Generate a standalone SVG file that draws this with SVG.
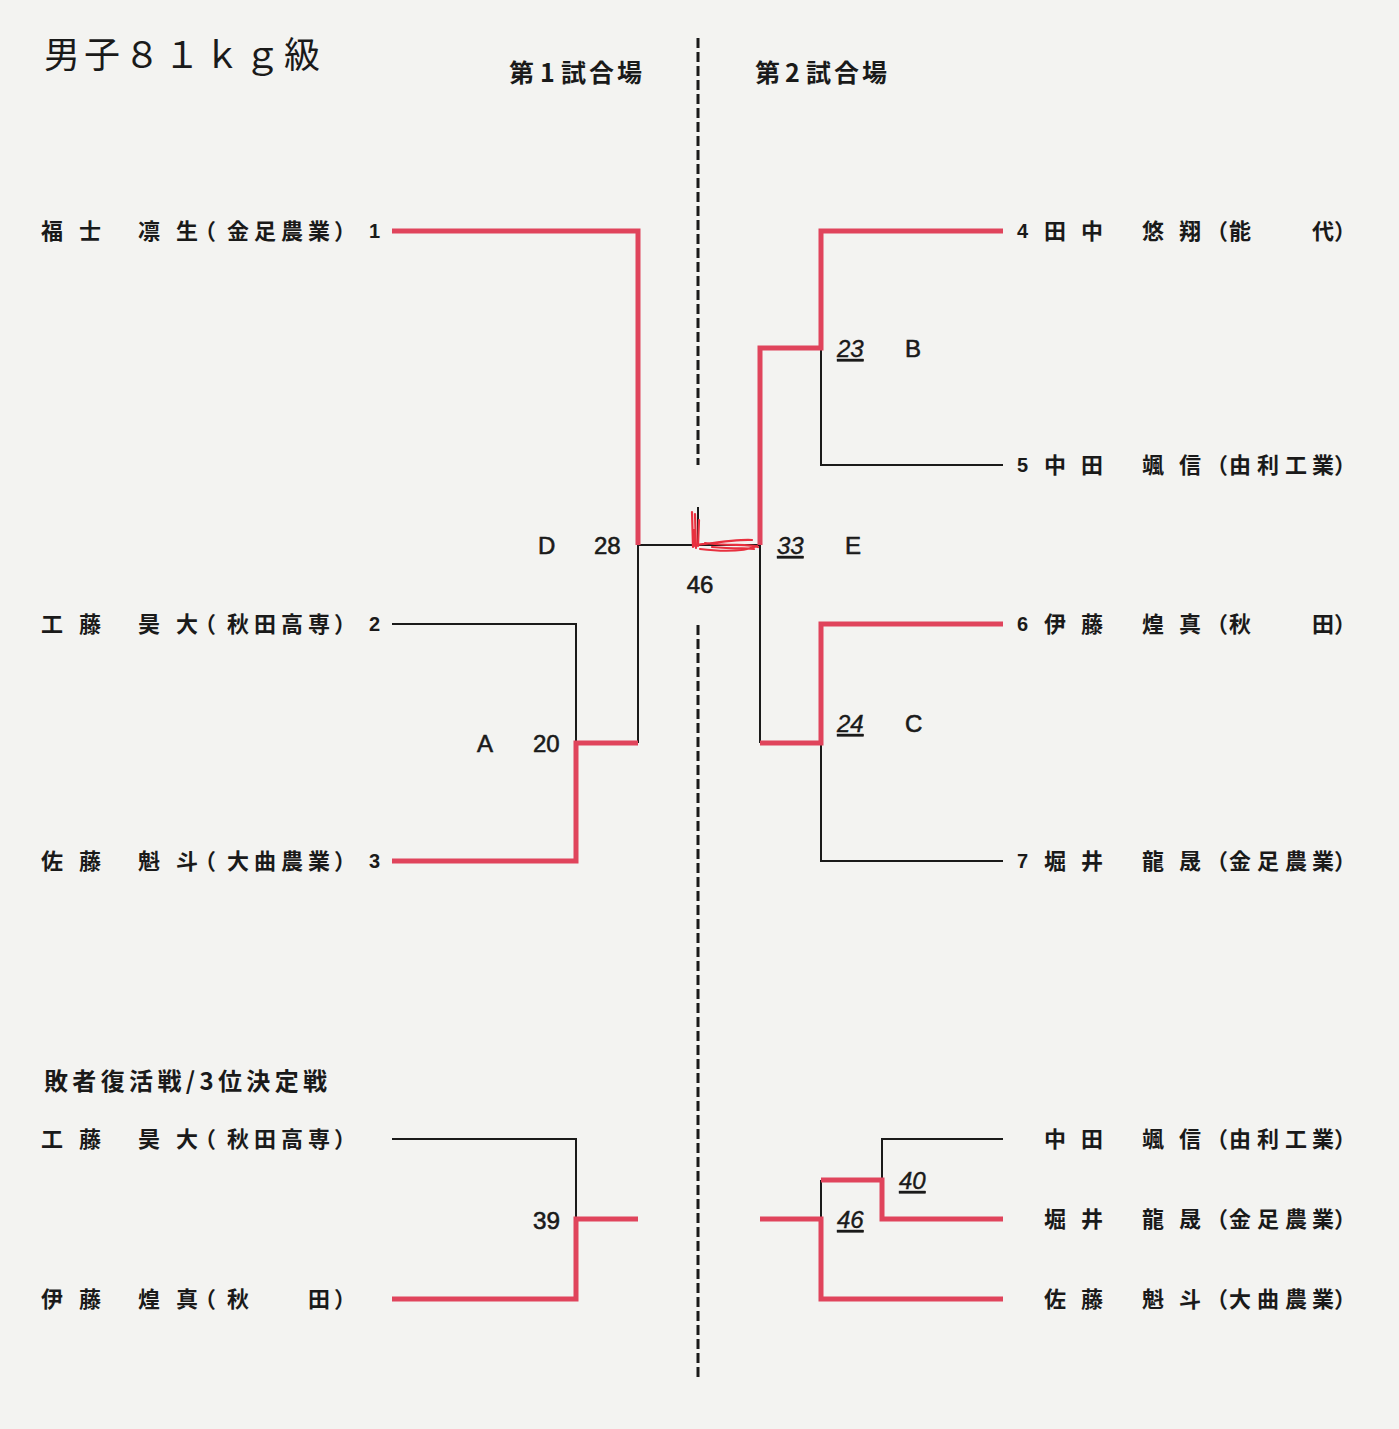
<svg xmlns="http://www.w3.org/2000/svg" width="1399" height="1429" viewBox="0 0 1399 1429">
<style>
.bg{fill:#f3f3f1}
.r{stroke:#e0445c;stroke-width:5;fill:none}
.k{stroke:#1a1a1a;stroke-width:2;fill:none}
.d{stroke:#1a1a1a;stroke-width:3;fill:none;stroke-dasharray:10 4}
.s{stroke:#e8303f;stroke-width:2.2;fill:none;stroke-linecap:round}
.jp{font-family:"Noto Sans CJK JP","Noto Sans CJK SC",sans-serif;fill:#1a1a1a}
.nm{font-size:22px;font-weight:bold}
.num{font-family:"Liberation Sans",Arial,sans-serif;font-size:20px;font-weight:bold;fill:#1a1a1a}
.lb{font-family:"Liberation Sans",Arial,sans-serif;font-size:24px;fill:#1a1a1a;stroke:#1a1a1a;stroke-width:0.6}
.it{font-family:"Liberation Sans",Arial,sans-serif;font-size:24px;font-style:italic;fill:#1a1a1a;stroke:#1a1a1a;stroke-width:0.4;text-decoration:underline}
</style>
<rect class="bg" x="0" y="0" width="1399" height="1429"/>

<g id="headers">
<text class="jp" x="44" y="68" font-size="36" letter-spacing="4">男子８１ｋｇ級</text>
<text class="jp" x="509 540 561 589 617" y="82" font-size="25" font-weight="bold">第1試合場</text>
<text class="jp" x="755 785 806 834 862" y="82" font-size="25" font-weight="bold">第2試合場</text>
<text class="jp" x="44" y="1090" font-size="24" font-weight="bold" textLength="283" lengthAdjust="spacing">敗者復活戦/3位決定戦</text>
</g>

<g id="connectors">
<path class="d" d="M698,38 V465"/>
<path class="d" d="M698,625 V1378"/>
<path class="k" d="M698,507 V545"/>
<path class="k" d="M392,624 H576 V743"/>
<path class="k" d="M638,743 V545 H760 V743"/>
<path class="k" d="M1003,465 H821 V348"/>
<path class="k" d="M1003,861 H821 V743"/>
<path class="k" d="M392,1139 H576 V1219"/>
<path class="k" d="M1003,1139 H882 V1180"/>
<path class="k" d="M821,1180 V1219"/>
<path class="r" d="M392,231 H638 V545"/>
<path class="r" d="M392,861 H576 V743 H638"/>
<path class="r" d="M1003,231 H821 V348 H760 V545"/>
<path class="r" d="M1003,624 H821 V743 H760"/>
<path class="r" d="M392,1299 H576 V1219 H638"/>
<path class="r" d="M1003,1299 H821 V1219 H760"/>
<path class="r" d="M1003,1219 H882 V1180 H821"/>
<path class="s" d="M692,512 L693,547 M695,514 L696,548 M699,520 L698,546 M694,530 L695,546"/>
<path class="s" d="M697,545 C720,542 740,539 752,540 M700,549 C725,552 745,551 757,546 M705,543 C730,546 750,544 758,547 M712,547 C735,549 748,548 754,549"/>
</g>

<g id="p1"><text class="jp nm" x="41 79 138 176 194 227 254 281 308 334" y="239">福士凛生（金足農業）</text><text class="num" x="369" y="238">1</text></g>
<g id="p2"><text class="jp nm" x="41 79 138 176 194 227 254 281 308 334" y="632">工藤昊大（秋田高専）</text><text class="num" x="369" y="631">2</text></g>
<g id="p3"><text class="jp nm" x="41 79 138 176 194 227 254 281 308 334" y="869">佐藤魁斗（大曲農業）</text><text class="num" x="369" y="868">3</text></g>
<g id="p4"><text class="num" x="1017" y="238">4</text><text class="jp nm" x="1044 1081 1142 1179 1206 1229 1312 1334" y="239">田中悠翔（能代）</text></g>
<g id="p5"><text class="num" x="1017" y="472">5</text><text class="jp nm" x="1044 1081 1142 1179 1206 1229 1257 1285 1312 1334" y="473">中田颯信（由利工業）</text></g>
<g id="p6"><text class="num" x="1017" y="631">6</text><text class="jp nm" x="1044 1081 1142 1179 1206 1229 1312 1334" y="632">伊藤煌真（秋田）</text></g>
<g id="p7"><text class="num" x="1017" y="868">7</text><text class="jp nm" x="1044 1081 1142 1179 1206 1229 1257 1285 1312 1334" y="869">堀井龍晟（金足農業）</text></g>

<g id="r1"><text class="jp nm" x="41 79 138 176 194 227 254 281 308 334" y="1147">工藤昊大（秋田高専）</text></g>
<g id="r2"><text class="jp nm" x="41 79 138 176 194 227 308 334" y="1307">伊藤煌真（秋田）</text></g>
<g id="r3"><text class="jp nm" x="1044 1081 1142 1179 1206 1229 1257 1285 1312 1334" y="1147">中田颯信（由利工業）</text></g>
<g id="r4"><text class="jp nm" x="1044 1081 1142 1179 1206 1229 1257 1285 1312 1334" y="1227">堀井龍晟（金足農業）</text></g>
<g id="r5"><text class="jp nm" x="1044 1081 1142 1179 1206 1229 1257 1285 1312 1334" y="1307">佐藤魁斗（大曲農業）</text></g>

<g id="mA"><text class="lb" x="477" y="752">A</text><text class="lb" x="533" y="752">20</text></g>
<g id="mD"><text class="lb" x="538" y="554">D</text><text class="lb" x="594" y="554">28</text></g>
<g id="m46"><text class="lb" x="700" y="593" text-anchor="middle">46</text></g>
<g id="mB"><text class="it" x="837" y="357">23</text><text class="lb" x="905" y="357">B</text></g>
<g id="mE"><text class="it" x="777" y="554">33</text><text class="lb" x="845" y="554">E</text></g>
<g id="mC"><text class="it" x="837" y="732">24</text><text class="lb" x="905" y="732">C</text></g>
<g id="m39"><text class="lb" x="533" y="1229" font-size="25" textLength="27" lengthAdjust="spacingAndGlyphs">39</text></g>
<g id="m40"><text class="it" x="899" y="1189">40</text></g>
<g id="m46b"><text class="it" x="837" y="1228">46</text></g>
</svg>
